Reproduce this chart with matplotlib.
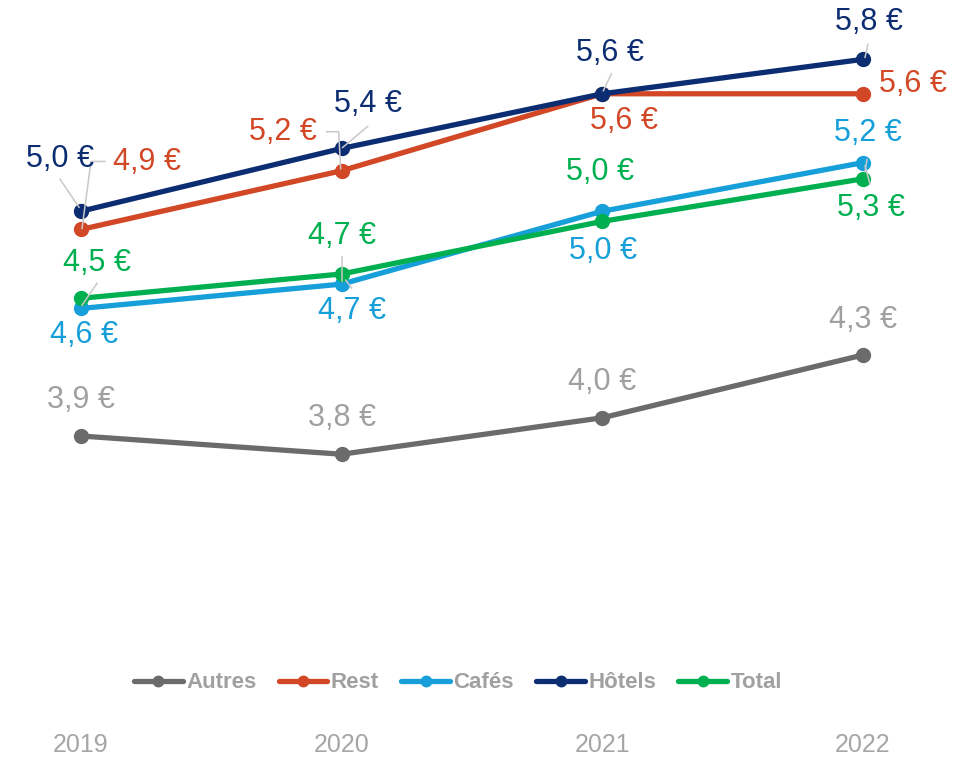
import matplotlib
matplotlib.use('Agg')
import matplotlib.pyplot as plt

# data
years = ['2019', '2020', '2021', '2022']
autres = [3.90, 3.81, 3.99, 4.30]
rest = [4.92, 5.21, 5.59, 5.59]
cafes = [4.53, 4.65, 5.01, 5.25]
hotels = [5.01, 5.32, 5.59, 5.76]
total = [4.58, 4.70, 4.96, 5.17]

# data labels as printed on the chart
autres_lbl = ['3,9 €', '3,8 €', '4,0 €', '4,3 €']
rest_lbl = ['4,9 €', '5,2 €', '5,6 €', '5,6 €']
cafes_lbl = ['4,6 €', '4,7 €', '5,0 €', '5,2 €']
hotels_lbl = ['5,0 €', '5,4 €', '5,6 €', '5,8 €']
total_lbl = ['4,5 €', '4,7 €', '5,0 €', '5,3 €']

series = [
    ('Autres', autres, autres_lbl, '#6b6b6b', '#a0a0a0'),
    ('Rest', rest, rest_lbl, '#d24726', '#d24726'),
    ('Cafés', cafes, cafes_lbl, '#179fda', '#179fda'),
    ('Hôtels', hotels, hotels_lbl, '#0c2d72', '#0c2d72'),
    ('Total', total, total_lbl, '#00b050', '#00b050'),
]

# label offsets in pixels (dx right, dy down) from each point
label_off = {
    'Autres': [(0, -36), (0, -36), (0, -36), (0, -35)],
    'Rest': [(66, -67), (-59, -39), (22, 27), (50, -10)],
    'Cafés': [(3, 27), (10, 27), (1, 40), (5, -30)],
    'Hôtels': [(-21, -52), (26, -44), (8, -41), (6, -37)],
    'Total': [(16, -35), (0, -38), (-2, -49), (8, 29)],
}

# leader lines, pixel offsets from the point
leaders = {
    ('Hôtels', 0): [(-21, -32), (-2, -4)],
    ('Hôtels', 1): [(26, -22), (1, -1)],
    ('Hôtels', 2): [(9, -20), (1, -3)],
    ('Hôtels', 3): [(5, -15), (2, -2)],
    ('Rest', 0): [(24, -68), (10, -68), (1, -1)],
    ('Rest', 1): [(-15, -39), (-3, -39), (-1, -2)],
    ('Total', 0): [(16, -15), (1, 7)],
    ('Total', 1): [(0, -17), (0, 7)],
    ('Cafés', 1): [(4, -4), (10, 4)],
    ('Cafés', 3): [(4, -3), (2, 9)],
    ('Total', 3): [(2, -13), (7, 5)],
}

W, H = 968, 759
fig = plt.figure(figsize=(W / 100, H / 100), dpi=100)
ax = fig.add_axes([0, 1 - 725 / H, 1, 725 / H])

px_x = 782 / 3.0      # pixels per year step
px_y = 202.5          # pixels per euro
ax.set_xlim(-81 / px_x, 3 + (W - 863) / px_x)
ax.set_ylim(3.9 - (725 - 436) / px_y, 3.9 + 436 / px_y)

xs = list(range(len(years)))
for name, vals, lbls, col, tcol in series:
    ax.plot(xs, vals, color=col, lw=3.8, marker='o', ms=10,
            solid_capstyle='round', label=name, zorder=2)

fig.canvas.draw()
to_disp = ax.transData.transform
to_data = ax.transData.inverted().transform

for name, vals, lbls, col, tcol in series:
    for i, (v, t) in enumerate(zip(vals, lbls)):
        dx, dy = label_off[name][i]
        ax.annotate(t, (i, v), xytext=(dx, -dy), textcoords='offset pixels',
                    ha='center', va='center', fontsize=22, color=tcol,
                    family='Liberation Sans', zorder=5)
        if (name, i) in leaders:
            px, py = to_disp((i, v))
            pts = [to_data((px + ox, py - oy)) for ox, oy in leaders[(name, i)]]
            ax.plot([p[0] for p in pts], [p[1] for p in pts],
                    color='#c8c8c8', lw=1.1, zorder=4)

for s in ax.spines.values():
    s.set_visible(False)
ax.set_yticks([])
ax.set_xticks(xs)
ax.set_xticklabels(years, color='#a6a6a6', fontsize=18,
                   family='Liberation Sans')
ax.tick_params(axis='x', length=0, pad=6)

fig.legend(loc='center', bbox_to_anchor=(458 / W, 1 - 683 / H), ncol=5,
           frameon=False, handlelength=2.2, handletextpad=0.15,
           columnspacing=1.0, markerscale=0.75,
           prop={'family': 'Liberation Sans', 'weight': 'bold', 'size': 16},
           labelcolor='#a0a0a0')

fig.savefig('out.png', dpi=100)
